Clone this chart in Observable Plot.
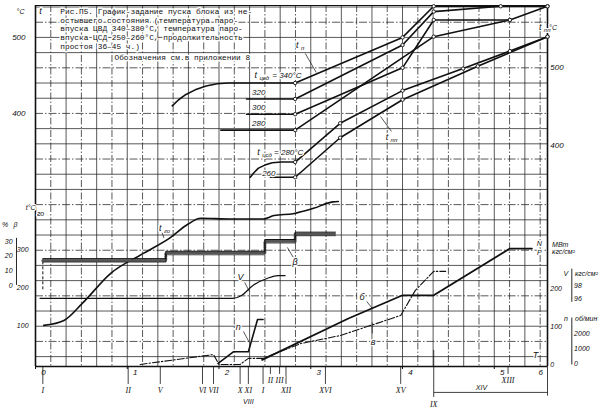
<!DOCTYPE html>
<html lang="ru">
<head>
<meta charset="utf-8">
<title>График-задание пуска блока из неостывшего состояния</title>
<script src="https://cdn.jsdelivr.net/npm/d3@7"></script>
<script src="https://cdn.jsdelivr.net/npm/@observablehq/plot@0.6"></script>
<style>
  body { margin: 0; background: #fff; }
  #graphic svg { display: block; }
</style>
</head>
<body>
<div id="graphic"></div>
<script>
// time axis, hours
const hours = [0, 1, 2, 3, 4, 5, 5.42];
const hourLabels = ["0", "1", "2", "3", "4", "5", "6"];

// scale ticks
const tLeftTicks = [400, 500];
const tppTicks = [400, 500];
const tgoTicks = [100, 200, 300];
const betaTicks = [0, 10, 20, 30];
const npTicks = [0, 100, 200];
const vTicks = [96, 98];
const nTicks = [0, 1000, 2000];

// [hours, value] pairs
const cvd340 = [[1.49, 410], [1.56, 418], [1.64, 425], [1.74, 431], [1.86, 436], [1.98, 439], [2.1, 440], [2.83, 440], [4.0, 500], [4.34, 541], [5.58, 541]];
const cvd320 = [[2.3, 419], [2.83, 419], [4.0, 490], [4.34, 534], [5.07, 541]];
const cvd300 = [[2.3, 399], [2.83, 399], [4.0, 460], [4.34, 523], [5.17, 523], [5.58, 541]];
const cvd280 = [[2.02, 378], [2.83, 378], [4.34, 501], [5.17, 523]];
const csd280 = [[2.34, 316], [2.38, 322], [2.43, 328], [2.5, 332], [2.58, 335], [2.68, 336], [2.83, 336], [3.32, 387], [4.0, 430], [4.66, 459], [5.17, 482], [5.58, 501]];
const csd260 = [[2.56, 316], [2.83, 316], [3.32, 368], [4.0, 418], [4.82, 462], [5.58, 501]];

const tgo = [[0.09, 100], [0.31, 113], [0.51, 158], [0.82, 237], [1.18, 290], [1.47, 331], [1.66, 366], [1.8, 382], [2.12, 380], [2.48, 380], [2.6, 389], [2.81, 394], [3.03, 408], [3.24, 425], [3.3, 426]];
const betaT = [0.08, 1.42, 2.5, 2.83, 3.27];
const betaV = [17, 22, 30, 35, 35];
const vac = [[0.05, 96], [2.15, 96], [2.24, 96.4], [2.37, 98], [2.53, 99.1], [2.64, 99.5], [2.72, 99.5]];
const rpm = [[1.99, 0], [2.16, 800], [2.32, 800], [2.42, 3000], [2.48, 3000]];
const press = [[1.14, 0], [1.94, 26], [2.0, 0], [2.23, 0], [2.32, 16], [2.48, 16], [2.89, 55], [3.32, 76], [3.98, 129], [4.14, 195], [4.34, 245], [4.47, 245]];
const power = [[2.47, 12], [3.41, 121], [4.0, 182], [4.34, 182], [5.17, 305], [5.41, 305]];

// operations under the time axis
const steps = [
  {t: 0.08, label: "I", level: 1}, {t: 1.01, label: "II", level: 1}, {t: 1.36, label: "V", level: 1},
  {t: 1.82, label: "VI", level: 1}, {t: 1.94, label: "VII", level: 1}, {t: 2.23, label: "X", level: 1},
  {t: 2.32, label: "XI", level: 1}, {t: 2.48, label: "I", level: 1}, {t: 2.56, label: "II", level: 0},
  {t: 2.66, label: "III", level: 0}, {t: 2.73, label: "XII", level: 1}, {t: 3.16, label: "XVI", level: 1},
  {t: 3.98, label: "XV", level: 1}, {t: 4.34, label: "IX", level: 2}, {t: 5.15, label: "XIII", level: 0}
];

// every scale is mapped onto the left-hand °C scale
const onTpp = v => 460.5 + (v - 500) * 1.026;
const onTgo = v => 71.1 + 0.5 * v;
const onBeta = v => 173.7 + 1.934 * v;
const onNP = v => 69.7 + 0.5 * v;
const onV = v => 156.6 + 8.55 * (v - 96);
const onN = v => 71 + 0.0193 * v;

const grid10 = d3.range(1, 34).map(k => k / 6);
const gridT = d3.range(80, 541, 20);

const font = "'Liberation Sans', Arial, sans-serif";
const ink = "#111";
const txt = {fontFamily: font, fontStyle: "italic", fontSize: 8, fill: ink, stroke: "white", strokeWidth: 2.5};
const sub = {...txt, fontSize: 6, textAnchor: "start", strokeWidth: 2};

const line = (arr, f, o = {}) => Plot.line(arr, {x: d => d[0], y: d => f(d[1]), stroke: ink, strokeWidth: 1.6, ...o});
const nodes = (arr) => Plot.dot(arr.filter(d => d[0] >= 2.83), {x: d => d[0], y: d => d[1], r: 1.7, fill: "white", stroke: ink, strokeWidth: 0.9});
const id = v => v;

const betaPts = betaT.map((t, i) => [t, betaV[i]]);
const lvLine = [56.6, 43.4, 26.3], lvText = [48.7, 35.5, 17.1];

const title = "Рис.П5. График-задание пуска блока из не-\nостывшего состояния (температура паро-\nвпуска ЦВД 340–380°С, температура паро-\nвпуска ЦСД 250–260°С, продолжительность\nпростоя 36–45 ч.)";

const labels = [
  {x: 2.854, y: 489.5, text: "t", s: "п"},
  {x: 3.83, y: 368.4, text: "t", s: "пп"},
  {x: 5.5, y: 513.2, text: "t", s: "пп"},
  {x: 2.4, y: 450, text: "t", s: "цвд"},
  {x: 2.43, y: 348.7, text: "t", s: "цсд"},
  {x: 1.36, y: 248.7, text: "t", s: "го"},
  {x: 0.054, y: 534, text: "t", s: ""},
  {x: 2.83, y: 204, text: "β", s: ""},
  {x: 2.233, y: 184.2, text: "V", s: ""},
  {x: 2.21, y: 118.4, text: "n", s: ""},
  {x: 3.56, y: 157.9, text: "б", s: ""},
  {x: 3.68, y: 98.7, text: "в", s: ""},
  {x: 5.45, y: 81.6, text: "Т", s: ""}
];
const leaders = [
  [2.94, 478.9, 3.06, 453.9], [3.76, 396, 3.88, 376.3], [2.745, 223.7, 2.81, 210.5],
  [2.28, 177.6, 2.33, 165.8], [2.266, 113.2, 2.33, 98.7], [3.61, 152.6, 3.67, 143.4],
  [3.67, 125, 3.67, 110.5], [1.38, 243, 1.4, 236]
];
const inlineText = [
  {x: 2.58, y: 450, text: "= 340°С"}, {x: 2.6, y: 348.7, text: "= 280°С"},
  {x: 2.36, y: 427.6, text: "320"}, {x: 2.36, y: 407.9, text: "300"}, {x: 2.36, y: 386.8, text: "280"},
  {x: 2.47, y: 321, text: "260"}
];
const units = [
  {x: -0.163, y: 534, text: "°С", a: "middle"}, {x: 5.64, y: 513.2, text: "°С", a: "middle"},
  {x: -0.33, y: 254, text: "%", a: "middle"}, {x: -0.218, y: 254, text: "β", a: "middle"},
  {x: 0.0, y: 276.3, text: "t°С", a: "end"}, {x: 0.015, y: 268.5, text: "го", a: "start"},
  {x: 5.49, y: 228.9, text: "N", a: "middle"}, {x: 5.49, y: 217.1, text: "Р", a: "middle"},
  {x: 5.63, y: 227.6, text: "МВт", a: "start"}, {x: 5.63, y: 218.4, text: "кгс/см²", a: "start"},
  {x: 5.78, y: 189.5, text: "V", a: "middle"}, {x: 5.88, y: 189.5, text: "кгс/см²", a: "start"},
  {x: 5.78, y: 130.3, text: "n", a: "middle"}, {x: 5.88, y: 130.3, text: "об/мин", a: "start"},
  {x: 4.86, y: 39.5, text: "XIV", a: "middle"}, {x: 2.32, y: 21, text: "VIII", a: "middle"}
];

const chart = Plot.plot({
  width: 604,
  height: 410,
  marginLeft: 35,
  marginRight: 57,
  marginTop: 5,
  marginBottom: 44,
  x: {type: "linear", domain: [0, 5.58], axis: null},
  y: {type: "linear", domain: [67, 542], axis: null},
  style: {background: "white", overflow: "visible", fontFamily: font},
  marks: [
    // grid, every 10 min and every 20 °C
    Plot.ruleX(grid10.filter((d, i) => i % 2 == 1), {stroke: "#222", strokeWidth: 0.75}),
    Plot.ruleX(grid10.filter((d, i) => i % 2 == 0), {stroke: "#222", strokeWidth: 0.75, strokeDasharray: "7,2,1.5,2"}),
    Plot.ruleY(gridT.filter((d, i) => i % 3 != 1), {stroke: "#222", strokeWidth: 0.75}),
    Plot.ruleY(gridT.filter((d, i) => i % 3 == 1), {stroke: "#222", strokeWidth: 0.75, strokeDasharray: "8,2,1.5,2"}),

    // frame
    Plot.ruleX([0, 5.58], {stroke: ink, strokeWidth: 1.6}),
    Plot.ruleY([67], {stroke: ink, strokeWidth: 1.6}),
    Plot.ruleY([542], {stroke: ink, strokeWidth: 1}),

    // title block
    Plot.text([title], {x: 0.27, y: 539, text: d => d, textAnchor: "start", lineAnchor: "top", lineHeight: 1.12,
      fontFamily: "'Liberation Mono', 'DejaVu Sans Mono', monospace", fontSize: 7.8, fill: ink, stroke: "white", strokeWidth: 3}),
    Plot.text(["Обозначения см.в приложении 8"], {x: 1.6, y: 474, text: d => d,
      fontFamily: "'Liberation Mono', 'DejaVu Sans Mono', monospace", fontSize: 7.8, fill: ink, stroke: "white", strokeWidth: 3}),

    // top panel: metal and steam temperatures
    line(cvd340, id), line(cvd320, id), line(cvd300, id), line(cvd280, id),
    line(csd280, id), line(csd260, id),
    nodes(cvd340), nodes(cvd320), nodes(cvd300), nodes(cvd280), nodes(csd280), nodes(csd260),

    // middle panel
    line(tgo, onTgo, {curve: "monotone-x"}),
    Plot.ruleX([betaT[0]], {y1: onBeta(-3), y2: onBeta(betaV[0]), stroke: ink, strokeWidth: 1, strokeDasharray: "3,2"}),
    line(betaPts, onBeta, {curve: "step-after", stroke: "#555", strokeWidth: 3, strokeDasharray: "0.7,1.6"}),
    line(betaPts, onBeta, {curve: "step-after", strokeWidth: 1, dy: -1.8}),
    line(betaPts, onBeta, {curve: "step-after", strokeWidth: 0.6, dy: 1.8}),
    line(vac, onV, {curve: "monotone-x", strokeWidth: 1.2}),

    // lower panel
    line(press, onNP, {strokeWidth: 1.1, strokeDasharray: "7,2,1.5,2"}),
    line(rpm, onN),
    line(power, onNP, {strokeWidth: 1.8}),

    // leaders and labels
    Plot.link(leaders, {x1: d => d[0], y1: d => d[1], x2: d => d[2], y2: d => d[3], stroke: ink, strokeWidth: 0.7}),
    Plot.text(labels, {x: "x", y: "y", text: "text", ...txt, fontSize: 9}),
    Plot.text(labels.filter(d => d.s), {x: d => d.x + 0.04, y: d => d.y - 4, text: "s", ...sub}),
    Plot.text(inlineText, {x: "x", y: "y", text: "text", ...txt, textAnchor: "start"}),
    Plot.text(units.filter(d => d.a == "middle"), {x: "x", y: "y", text: "text", ...txt, fontSize: 7, textAnchor: "middle"}),
    Plot.text(units.filter(d => d.a == "start"), {x: "x", y: "y", text: "text", ...txt, fontSize: 7, textAnchor: "start"}),
    Plot.text(units.filter(d => d.a == "end"), {x: "x", y: "y", text: "text", ...txt, fontSize: 7, textAnchor: "end"}),

    // scale numbers
    Plot.text(tLeftTicks, {x: -0.109, y: d => d, text: d => String(d), ...txt, textAnchor: "end"}),
    Plot.text(tppTicks, {x: 5.61, y: onTpp, text: d => String(d), ...txt, textAnchor: "start"}),
    Plot.text(tgoTicks, {x: -0.076, y: onTgo, text: d => String(d), ...txt, fontSize: 7, textAnchor: "end"}),
    Plot.text(betaTicks, {x: -0.25, y: onBeta, text: d => String(d), ...txt, fontSize: 7, textAnchor: "end"}),
    Plot.ruleX([-0.207], {y1: onBeta(0), y2: onBeta(32), stroke: ink, strokeWidth: 0.9}),
    Plot.text(npTicks, {x: 5.61, y: onNP, text: d => String(d), ...txt, fontSize: 7, textAnchor: "start"}),
    Plot.text(vTicks, {x: 5.87, y: onV, text: d => String(d), ...txt, fontSize: 7, textAnchor: "start"}),
    Plot.ruleX([5.845], {y1: onV(95.4), y2: onV(100.5), stroke: ink, strokeWidth: 0.9}),
    Plot.text(nTicks, {x: 5.87, y: onN, text: d => String(d), ...txt, fontSize: 7, textAnchor: "start"}),
    Plot.ruleX([5.845], {y1: onN(-100), y2: onN(3100), stroke: ink, strokeWidth: 0.9}),

    // time axis
    Plot.ruleX(hours.slice(0, 6), {y1: 67, y2: 63, stroke: ink, strokeWidth: 1}),
    Plot.text(hours, {x: d => d, y: 59.2, text: (d, i) => hourLabels[i], ...txt, dx: 8}),

    // operations
    Plot.ruleX(steps, {x: "t", y1: d => d.level == 2 ? 88.2 : 67, y2: d => lvLine[d.level], stroke: ink, strokeWidth: 0.8}),
    Plot.text(steps, {x: "t", y: d => lvText[d.level], text: "label", ...txt, fontFamily: "'Liberation Serif', serif", fontSize: 8}),
    Plot.link([[4.34, 5.58]], {x1: d => d[0], x2: d => d[1], y1: 32.9, y2: 32.9, stroke: ink, strokeWidth: 0.8}),
    Plot.ruleX([5.58], {y1: 28, y2: 67, stroke: ink, strokeWidth: 0.8})
  ]
});

document.getElementById("graphic").appendChild(chart);
</script>
</body>
</html>
